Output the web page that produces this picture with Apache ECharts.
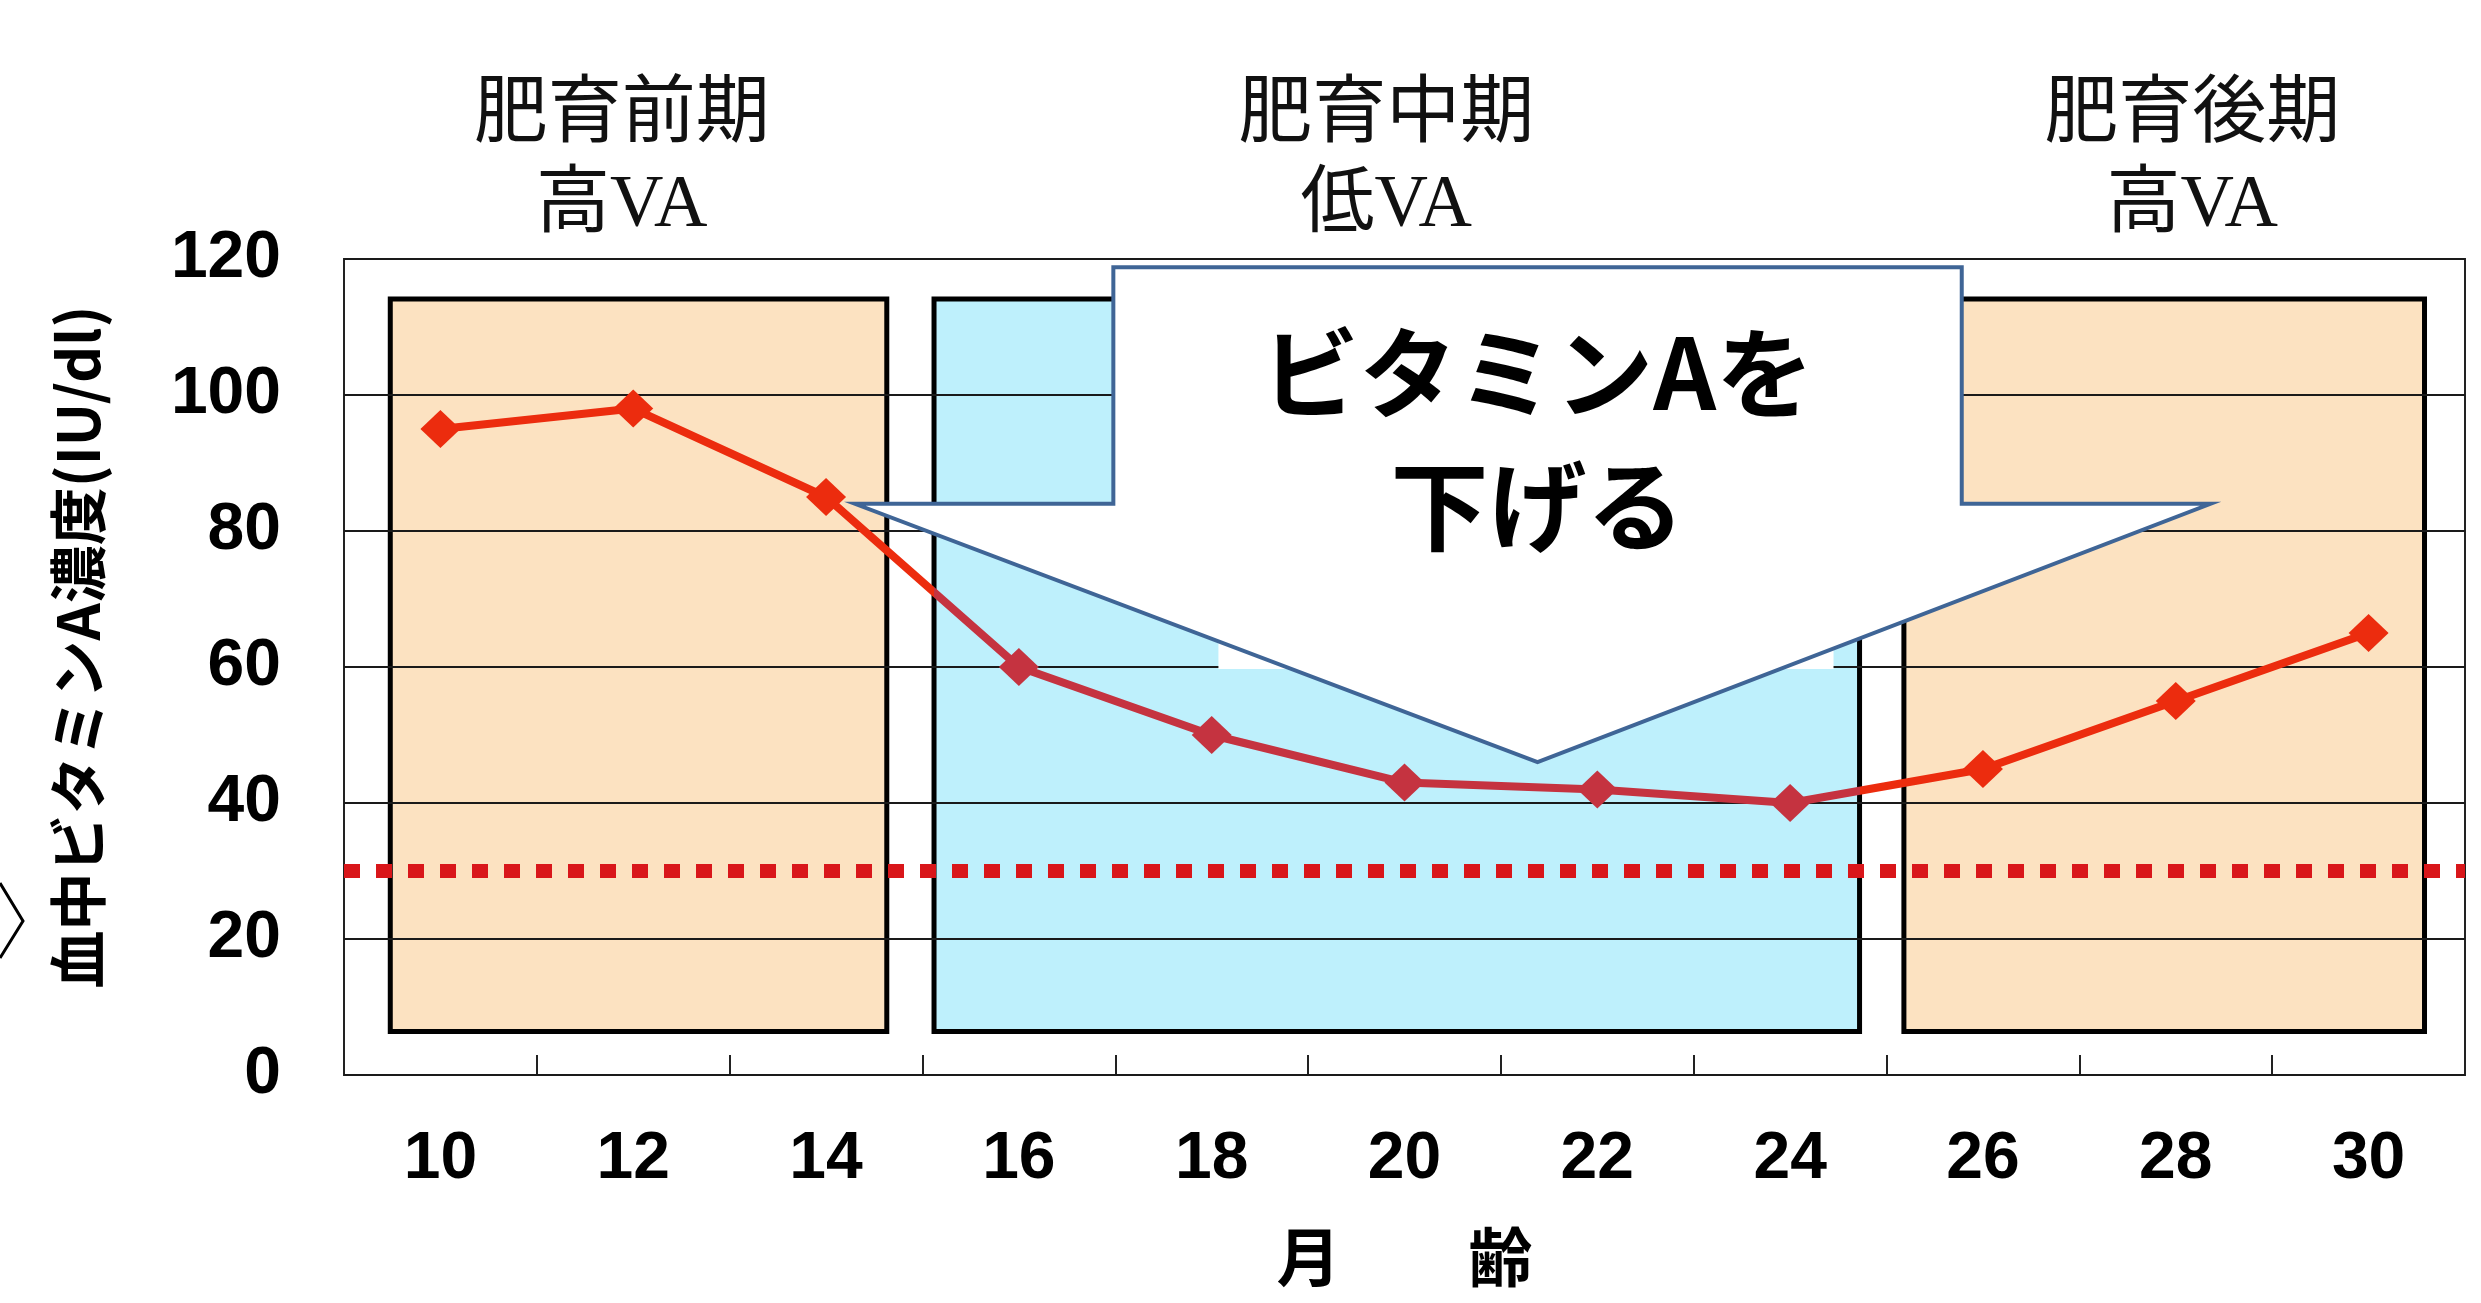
<!DOCTYPE html>
<html><head><meta charset="utf-8">
<script src="https://cdn.jsdelivr.net/npm/echarts@6/dist/echarts.min.js"></script>
<style>html,body{margin:0;padding:0;background:#fff}#c{width:2481px;height:1303px}</style>
</head><body><div id="c"></div>
<script>
// ---- data ----
const months = [10, 12, 14, 16, 18, 20, 22, 24, 26, 28, 30];
const vitaminA = [95, 98, 85, 60, 50, 43, 42, 40, 45, 55, 65];
const threshold = 30;
const phaseNames = ['肥育前期', '肥育中期', '肥育後期'];
const phaseVA = ['高VA', '低VA', '高VA'];
const phaseStart = [9.48, 15.12, 25.18];
const phaseEnd = [14.63, 24.72, 30.58];
const calloutText = ['ビタミンAを', '下げる'];
const yAxisTitle = '血中ビタミンA濃度(IU/dl)';
const xAxisTitle = '月　　齢';

// ---- layout / style ----
const BOX_LOW = 6.4, BOX_HIGH = 114.1;
const headerX = [11.88, 19.81, 28.17];
const phaseFill = ['#FCE2C1', '#BEF0FC', '#FCE2C1'];
const RED = '#EC2C0E', CRIMSON = '#C53340', DOT = '#D9161A';
const tickMonths = months.slice(0, -1).map((m, i) => (m + months[i + 1]) / 2);
const SERIF = "'Liberation Serif', 'Noto Sans CJK JP'";

const chart = echarts.init(document.getElementById('c'));

const option = {
  animation: false,
  backgroundColor: '#fff',
  grid: { left: 344, right: 16, top: 259, bottom: 228, show: true, borderColor: '#222', borderWidth: 2, backgroundColor: '#fff' },
  xAxis: {
    type: 'value', min: 9, max: 31,
    name: xAxisTitle, nameLocation: 'middle', nameGap: 150,
    nameTextStyle: { fontSize: 64, fontWeight: 'bold', color: '#000', fontFamily: 'Noto Sans CJK JP' },
    axisLine: { show: true, lineStyle: { color: '#222', width: 2 } },
    axisTick: { show: true, inside: true, length: 20, customValues: tickMonths, lineStyle: { color: '#222', width: 2 } },
    axisLabel: { customValues: months, margin: 52, fontSize: 66, fontWeight: 'bold', color: '#000', fontFamily: 'Liberation Sans' },
    splitLine: { show: false }
  },
  yAxis: {
    type: 'value', min: 0, max: 120, interval: 20, z: 3,
    name: yAxisTitle, nameLocation: 'middle', nameGap: 237,
    nameTextStyle: { fontSize: 58, fontWeight: 'bold', color: '#000', fontFamily: 'Noto Sans CJK JP', padding: [0, 0, 0, 40] },
    axisLine: { show: false }, axisTick: { show: false },
    axisLabel: { margin: 63, fontSize: 66, fontWeight: 'bold', color: '#000', fontFamily: 'Liberation Sans' },
    splitLine: { lineStyle: { color: '#1a1a1a', width: 2 } }
  },
  visualMap: {
    type: 'piecewise', show: false, dimension: 0, seriesIndex: 1,
    pieces: [
      { lt: phaseStart[1], color: RED },
      { gte: phaseStart[1], lte: phaseEnd[1], color: CRIMSON },
      { gt: phaseEnd[1], color: RED }
    ]
  },
  series: [
    {
      type: 'custom', z: 1, silent: true,
      data: phaseNames.map((n, i) => i),
      renderItem(params, api) {
        const i = params.dataIndex;
        const p1 = api.coord([phaseStart[i], BOX_HIGH]);
        const p2 = api.coord([phaseEnd[i], BOX_LOW]);
        const top = api.coord([headerX[i], 120]);
        return {
          type: 'group', children: [
            { type: 'rect', shape: { x: p1[0], y: p1[1], width: p2[0] - p1[0], height: p2[1] - p1[1] },
              style: { fill: phaseFill[i], stroke: '#000', lineWidth: 5 } },
            { type: 'text', x: top[0], y: top[1] - 142,
              style: { text: phaseNames[i], fill: '#111', font: 'normal 74px ' + SERIF, align: 'center', verticalAlign: 'middle' } },
            { type: 'text', x: top[0], y: top[1] - 52,
              style: { text: phaseVA[i], fill: '#111', font: 'normal 74px ' + SERIF, align: 'center', verticalAlign: 'middle' } }
          ]
        };
      }
    },
    {
      type: 'line', z: 5,
      data: months.map((m, i) => [m, vitaminA[i]]),
      symbol: 'diamond', symbolSize: [40, 38],
      lineStyle: { width: 8 },
      itemStyle: { borderWidth: 0 }
    },
    {
      type: 'custom', z: 10, silent: true,
      data: [0],
      renderItem(params, api) {
        const c = (x, y) => api.coord([x, y]);
        const L = 16.98, R = 25.78, T = 118.8, N = 84.0, WL = 14.3, WR = 28.36, TX = 21.38, TY = 46;
        const pts = [c(L, T), c(R, T), c(R, N), c(WR, N), c(TX, TY), c(WL, N), c(L, N)];
        const w1 = c(18.07, 100), w2 = c(24.45, 59.7);
        const t1 = c(TX, 103.2), t2 = c(TX, 83.7);
        return {
          type: 'group', children: [
            { type: 'rect', shape: { x: w1[0], y: w1[1], width: w2[0] - w1[0], height: w2[1] - w1[1] }, style: { fill: '#fff' } },
            { type: 'polygon', shape: { points: pts }, style: { fill: '#fff', stroke: '#3F6596', lineWidth: 4, lineJoin: 'miter' } },
            { type: 'text', x: t1[0], y: t1[1], style: { text: calloutText[0], fill: '#000', font: 'bold 98px "Noto Sans CJK JP"', align: 'center', verticalAlign: 'middle' } },
            { type: 'text', x: t2[0], y: t2[1], style: { text: calloutText[1], fill: '#000', font: 'bold 98px "Noto Sans CJK JP"', align: 'center', verticalAlign: 'middle' } }
          ]
        };
      }
    },
    {
      type: 'line', z: 4, data: [], silent: true,
      markLine: {
        silent: true, symbol: 'none', label: { show: false },
        lineStyle: { color: DOT, width: 14, type: [16, 16], cap: 'butt' },
        data: [{ yAxis: threshold }]
      }
    }
  ],
  graphic: [
    { type: 'polyline', shape: { points: [[0, 883], [23, 921], [0, 958]] }, style: { stroke: '#000', lineWidth: 3, fill: null } }
  ]
};
chart.setOption(option);
</script>
</body></html>
